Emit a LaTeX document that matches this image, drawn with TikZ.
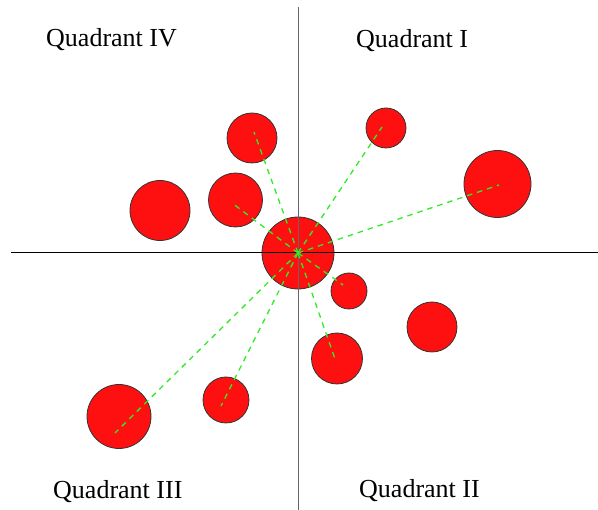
\documentclass[tikz,border=0pt]{standalone}
\usepackage{fontspec}
\setmainfont{Liberation Serif}
\begin{document}
\begin{tikzpicture}[x=1pt,y=-1pt,
  ball/.style={circle,draw=black!80,line width=0.8pt,inner sep=0pt,minimum size=#1},
  link/.style={draw={rgb,255:red,50;green,235;blue,40},dash pattern=on 5.5pt off 5pt,line width=1.3pt},
  axis/.style={draw=black,line width=1pt},
  qlabel/.style={font=\fontsize{26}{30}\selectfont,anchor=base west,inner sep=0pt}]
\useasboundingbox (0,0) rectangle (598,510);
\definecolor{ballred}{RGB}{255,16,16}
\tikzset{ball/.append style={fill=ballred}}
% circles
\node[ball=72pt] (c0) at (298,253) {};
\node[ball=50pt] (c1) at (252,138) {};
\node[ball=54pt] (c2) at (235.5,200) {};
\node[ball=60pt] (c3) at (160,210.5) {};
\node[ball=40pt] (c4) at (386,128) {};
\node[ball=67pt] (c5) at (497.5,184) {};
\node[ball=36pt] (c6) at (349,291) {};
\node[ball=50pt] (c7) at (432,327) {};
\node[ball=51pt] (c8) at (337,358.5) {};
\node[ball=46pt] (c9) at (226,400) {};
\node[ball=64pt] (c10) at (119,416.5) {};
% axes
\coordinate (top) at (298,7);
\coordinate (bottom) at (298,510);
\coordinate (left) at (11,253);
\coordinate (right) at (598,253);
\draw[axis,draw=black!60] (top) -- (bottom);
\draw[axis] (left) -- (right);
% dashed links
\coordinate (p1) at (254,132);
\coordinate (p2) at (232,203);
\coordinate (p4) at (382,127);
\coordinate (p5) at (499,185);
\coordinate (p6) at (343,285);
\coordinate (p8) at (335,359);
\coordinate (p9) at (221,406);
\coordinate (p10) at (115,433);
\foreach \p in {p1,p2,p4,p5,p6,p8,p9,p10} \draw[link] (c0.center) -- (\p);
% labels
\node[qlabel] (q4) at (46,47) {Quadrant IV};
\node[qlabel] (q1) at (356,48) {Quadrant I};
\node[qlabel] (q3) at (53,499) {Quadrant III};
\node[qlabel] (q2) at (359,498) {Quadrant II};
\end{tikzpicture}
\end{document}
